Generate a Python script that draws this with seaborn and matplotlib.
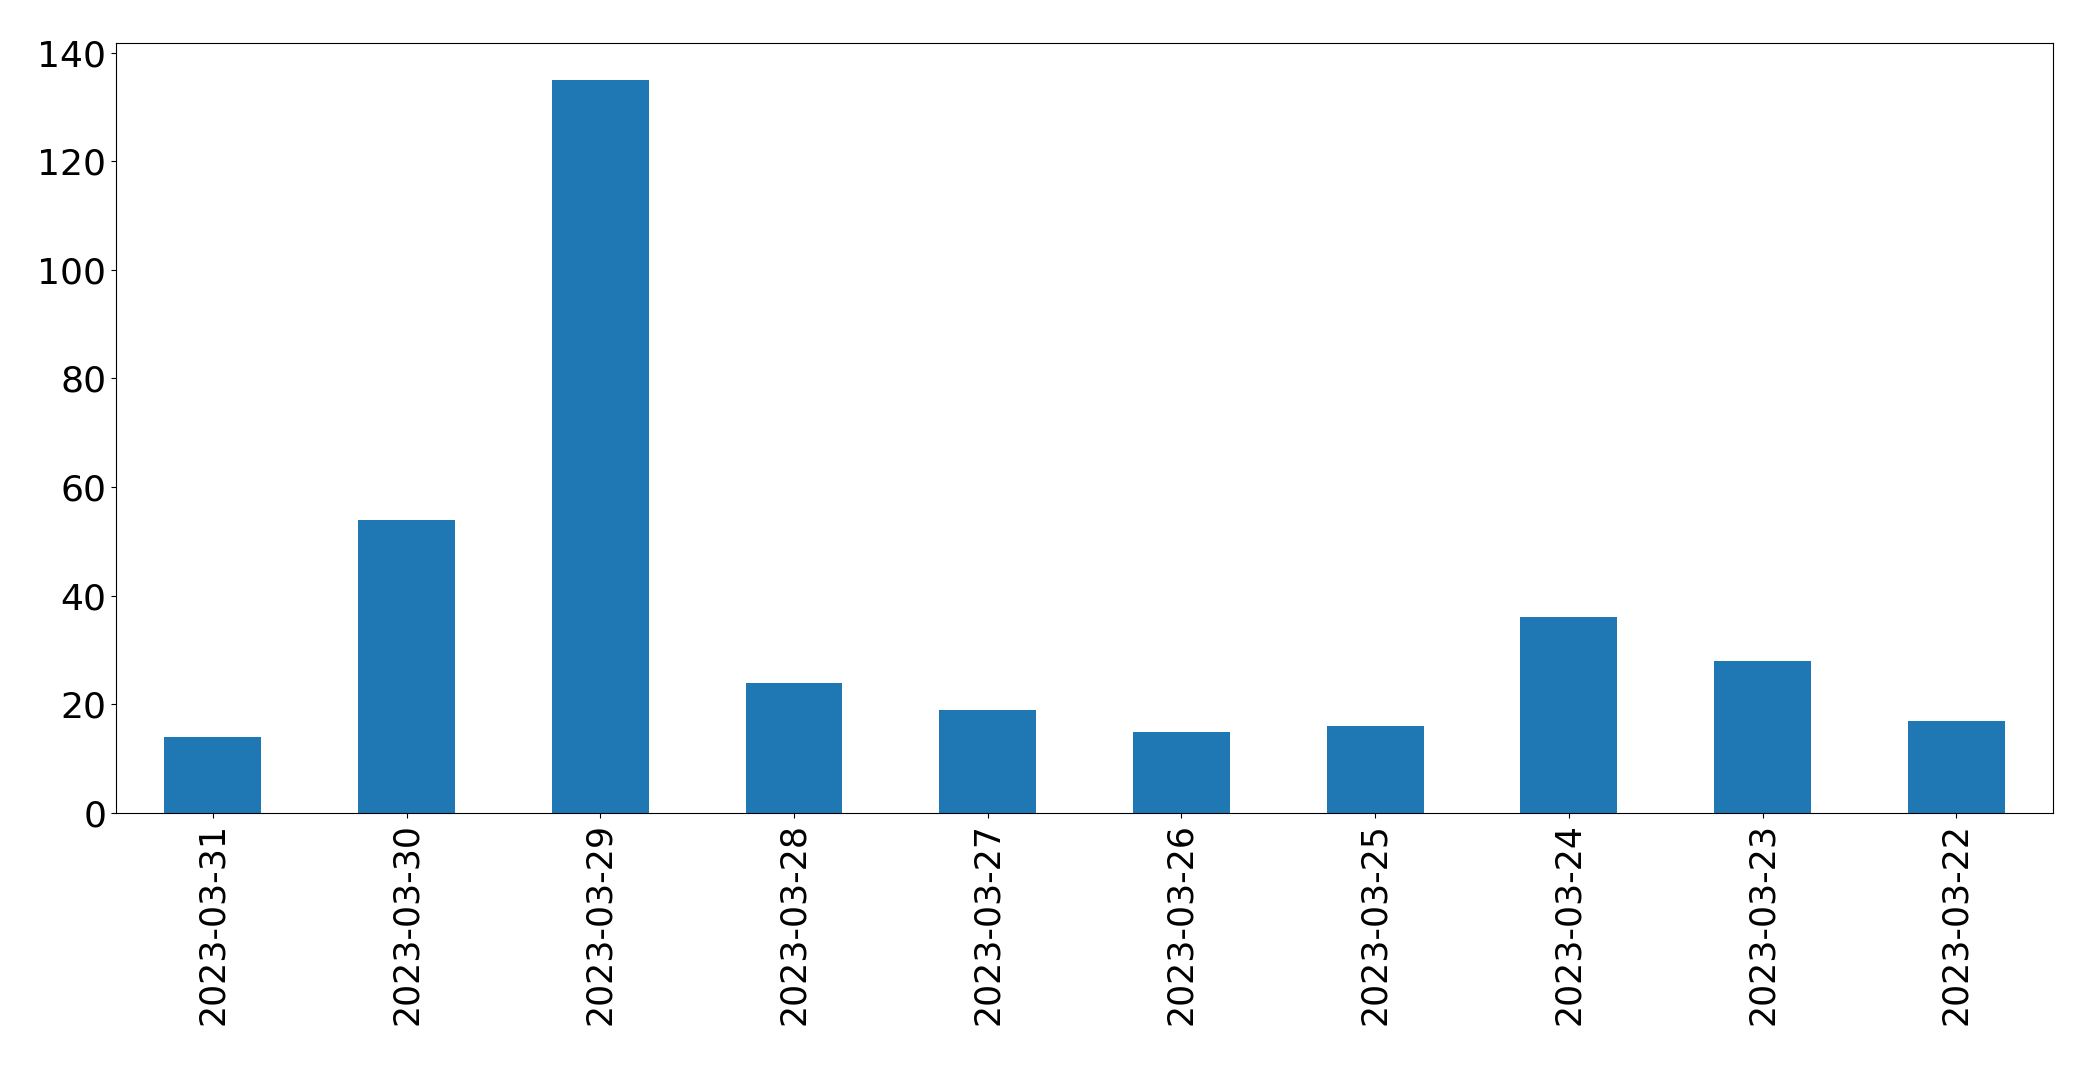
import matplotlib
matplotlib.use("Agg")
import matplotlib.pyplot as plt
import seaborn as sns
import pandas as pd

dates = ["2023-03-31", "2023-03-30", "2023-03-29", "2023-03-28", "2023-03-27",
         "2023-03-26", "2023-03-25", "2023-03-24", "2023-03-23", "2023-03-22"]
counts = [14, 54, 135, 24, 19, 15, 16, 36, 28, 17]

df = pd.DataFrame({"date": dates, "count": counts})

fig, ax = plt.subplots(figsize=(20.93, 10.65), dpi=100)
fig.subplots_adjust(left=0.0554, right=0.981, bottom=0.2366, top=0.9596)

sns.barplot(data=df, x="date", y="count", order=dates, color="#1f77b4",
            saturation=1, width=0.5, linewidth=0, ax=ax)

ax.set_xlim(-0.5, len(dates) - 0.5)
ax.set_ylim(0, max(counts) * 1.05)
ax.set_xlabel("")
ax.set_ylabel("")
for side in ax.spines.values():
    side.set_color("black")
ax.tick_params(axis="x", labelrotation=90, labelsize=25)
ax.tick_params(axis="y", labelsize=26)

plt.savefig("out.png", dpi=100)
